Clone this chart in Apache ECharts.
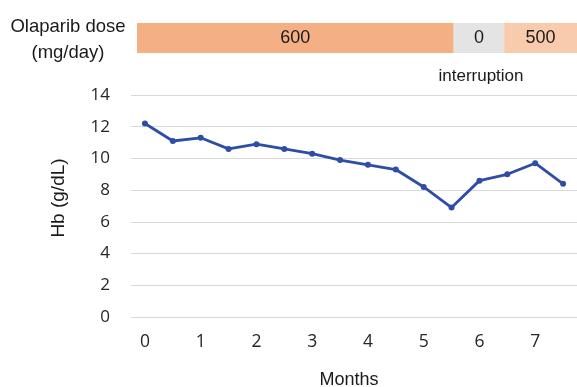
<!DOCTYPE html>
<html>
<head>
<meta charset="utf-8">
<script src="https://cdn.jsdelivr.net/npm/echarts@6/dist/echarts.min.js"></script>
<style>html,body{margin:0;padding:0;background:#fff}#c{width:577px;height:387px}</style>
</head>
<body>
<div id="c"></div>
<script>
// Hb measurements every half month
const months = ['0','0.5','1','1.5','2','2.5','3','3.5','4','4.5','5','5.5','6','6.5','7','7.5'];
const hb = [12.2, 11.1, 11.3, 10.6, 10.9, 10.6, 10.3, 9.9, 9.6, 9.3, 8.2, 6.9, 8.6, 9.0, 9.7, 8.4];
const yTicks = [0, 2, 4, 6, 8, 10, 12, 14];
// Olaparib dose periods (duration in months)
const doseLabels = ['600', '0', '500'];
const doseDurations = [5.65, 0.9, 1.3];
const doseColors = ['#F4B084', '#E4E4E4', '#F8CBAD'];

const chart = echarts.init(document.getElementById('c'));
const tickFont = 'Open Sans';
const textFont = 'Liberation Sans, Arial, sans-serif';

const doseSeries = doseLabels.map((lab, i) => ({
  type: 'bar',
  xAxisIndex: 1, yAxisIndex: 1,
  stack: 'dose',
  barWidth: '100%',
  data: [doseDurations[i]],
  itemStyle: { color: doseColors[i] },
  label: { show: true, position: 'inside', formatter: lab, color: '#1a1a1a', fontFamily: textFont, fontSize: 18 },
  silent: true
}));

chart.setOption({
  animation: false,
  title: [
    { text: 'Olaparib dose\n(mg/day)', left: 63, top: 9, textAlign: 'center',
      textStyle: { fontFamily: textFont, fontSize: 18.5, fontWeight: 'normal', color: '#1a1a1a', lineHeight: 26, align: 'center' } },
    { text: 'interruption', left: 476, top: 63, textAlign: 'center',
      textStyle: { fontFamily: textFont, fontSize: 17, fontWeight: 'normal', color: '#1a1a1a' } },
    { text: 'Months', left: 344, top: 366, textAlign: 'center',
      textStyle: { fontFamily: textFont, fontSize: 18, fontWeight: 'normal', color: '#1a1a1a' } }
  ],
  grid: [
    { left: 131, top: 95, width: 448, bottom: 70 },
    { left: 137, top: 23, width: 440, height: 30 }
  ],
  xAxis: [
    { type: 'category', data: months, gridIndex: 0, boundaryGap: true,
      axisLine: { show: true, lineStyle: { color: '#d9d9d9', width: 1 } },
      axisTick: { show: false },
      axisLabel: { interval: 1, margin: 16, fontFamily: tickFont, fontSize: 17.5, color: '#262626' } },
    { type: 'value', gridIndex: 1, min: 0, max: 7.85, show: false }
  ],
  yAxis: [
    { type: 'value', gridIndex: 0, min: 0, max: 14, interval: 2,
      name: 'Hb (g/dL)', nameLocation: 'middle', nameGap: 63, nameRotate: 90,
      nameTextStyle: { fontFamily: textFont, fontSize: 19, color: '#1a1a1a', padding: [0, 0, 0, 16] },
      axisLine: { show: false }, axisTick: { show: false },
      axisLabel: { margin: 21, fontFamily: tickFont, fontSize: 17, color: '#262626',
        formatter: v => yTicks.includes(v) ? String(v) : '' },
      splitLine: { lineStyle: { color: '#d9d9d9', width: 1 } } },
    { type: 'category', gridIndex: 1, data: ['dose'], show: false }
  ],
  series: [
    { type: 'line', data: hb, xAxisIndex: 0, yAxisIndex: 0,
      symbol: 'circle', symbolSize: 6,
      lineStyle: { color: '#2E4DA7', width: 2.8 },
      itemStyle: { color: '#2E4DA7' } },
    ...doseSeries
  ]
});
</script>
</body>
</html>
